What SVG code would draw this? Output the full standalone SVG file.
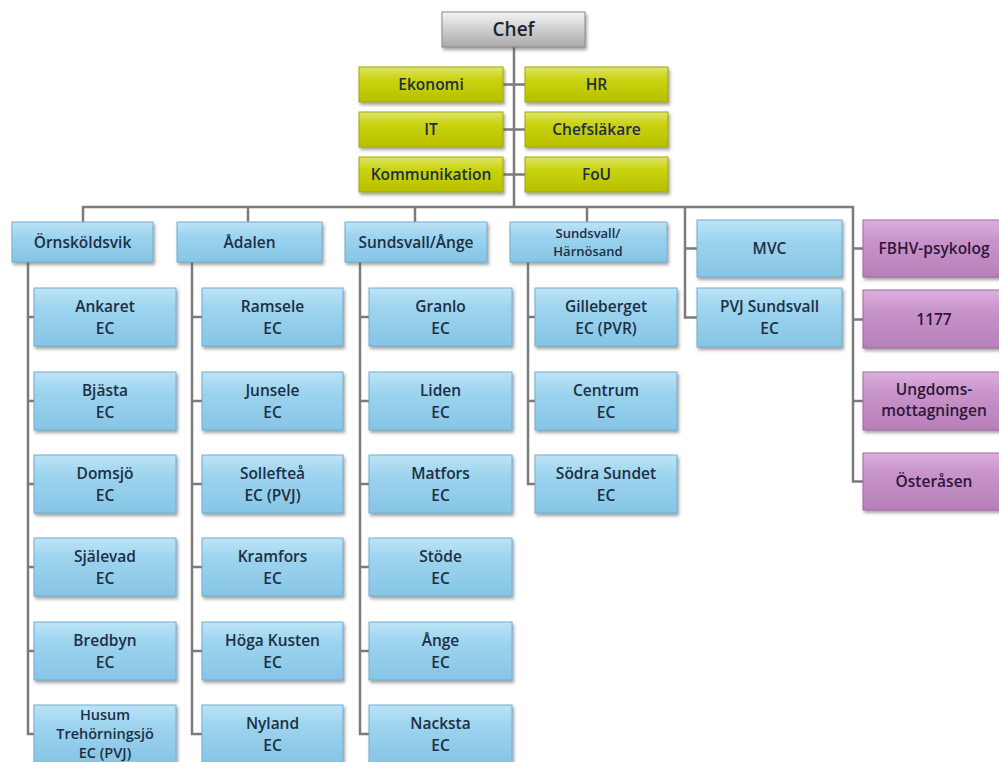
<svg xmlns="http://www.w3.org/2000/svg" width="999" height="762" viewBox="0 0 999 762">
<defs>
<linearGradient id="gBlue" x1="0" y1="0" x2="0" y2="1"><stop offset="0" stop-color="#bde4f7"/><stop offset="0.35" stop-color="#9dd4ef"/><stop offset="1" stop-color="#86c5e5"/></linearGradient>
<linearGradient id="gYel" x1="0" y1="0" x2="0" y2="1"><stop offset="0" stop-color="#dde56b"/><stop offset="0.35" stop-color="#cad30f"/><stop offset="1" stop-color="#b8c000"/></linearGradient>
<linearGradient id="gPur" x1="0" y1="0" x2="0" y2="1"><stop offset="0" stop-color="#dbb0dd"/><stop offset="0.35" stop-color="#c894cb"/><stop offset="1" stop-color="#b77fba"/></linearGradient>
<linearGradient id="gGray" x1="0" y1="0" x2="0" y2="1"><stop offset="0" stop-color="#f5f5f5"/><stop offset="0.45" stop-color="#d2d2d2"/><stop offset="1" stop-color="#a9a9a9"/></linearGradient>
<filter id="sh" x="-10%" y="-20%" width="130%" height="150%"><feDropShadow dx="1.5" dy="2.5" stdDeviation="1.5" flood-color="#555" flood-opacity="0.55"/></filter>
</defs>
<style>
.b{fill:url(#gBlue);stroke:#72aed0;stroke-width:1;filter:url(#sh)}
.y{fill:url(#gYel);stroke:#a3aa00;stroke-width:1;filter:url(#sh)}
.p{fill:url(#gPur);stroke:#a06aa3;stroke-width:1;filter:url(#sh)}
.g{fill:url(#gGray);stroke:#8a8a8a;stroke-width:1;filter:url(#sh)}
text{font-family:"Open Sans","Liberation Sans",sans-serif;font-weight:600;font-size:15.5px;fill:#1d2f44;text-anchor:middle}
.tp{fill:#2e1638}
.tc{font-size:19px;fill:#1a2530}
.sm{font-size:13px}
.md{font-size:14.5px}
.con{fill:none;stroke:#7b7b7b;stroke-width:2.5}
</style>
<rect width="999" height="762" fill="#ffffff"/>
<g id="connectors" class="con">
<path d="M514 47V207M503 84.5H525M503 129.5H525M503 174.5H525"/>
<path d="M83 222V207H853V481.5H863M248 207V222M415 207V222M587 207V222M685 207V317.5H697M685 248.5H697M853 248.5H863M853 319.5H863M853 401H863"/>
<path d="M28 262V734H34M28 317H34M28 401H34M28 484H34M28 567H34M28 651H34"/>
<path d="M192 262V734H202M192 317H202M192 401H202M192 484H202M192 567H202M192 651H202"/>
<path d="M360 262V734H369M360 317H369M360 401H369M360 484H369M360 567H369M360 651H369"/>
<path d="M528 262V484H535M528 317H535M528 401H535"/>
</g>
<g id="chef"><rect class="g" x="442" y="12" width="143" height="35"/><text class="tc" x="513.5" y="36">Chef</text></g>
<g id="ekonomi"><rect class="y" x="359" y="67" width="144" height="35"/><text x="431" y="90">Ekonomi</text></g>
<g id="hr"><rect class="y" x="525" y="67" width="143" height="35"/><text x="596.5" y="90">HR</text></g>
<g id="it"><rect class="y" x="359" y="112" width="144" height="35"/><text x="431" y="135">IT</text></g>
<g id="chefslakare"><rect class="y" x="525" y="112" width="143" height="35"/><text x="596.5" y="135">Chefsläkare</text></g>
<g id="kommunikation"><rect class="y" x="359" y="157" width="144" height="35"/><text x="431" y="180">Kommunikation</text></g>
<g id="fou"><rect class="y" x="525" y="157" width="143" height="35"/><text x="596.5" y="180">FoU</text></g>

<g id="ornskoldsvik"><rect class="b" x="12" y="222" width="141" height="40"/><text x="82.5" y="247.5">Örnsköldsvik</text></g>
<g id="adalen"><rect class="b" x="177" y="222" width="145" height="40"/><text x="249.5" y="247.5">Ådalen</text></g>
<g id="sundsvall-ange"><rect class="b" x="345" y="222" width="142" height="40"/><text x="416" y="247.5">Sundsvall/Ånge</text></g>
<g id="sundsvall-harnosand"><rect class="b" x="510" y="222" width="157" height="40"/><text class="sm" x="588" y="237.5">Sundsvall/</text><text class="sm" x="588" y="255.5">Härnösand</text></g>
<g id="mvc"><rect class="b" x="697" y="220" width="145" height="57"/><text x="769.5" y="253.5">MVC</text></g>
<g id="pvj-sundsvall"><rect class="b" x="697" y="288" width="145" height="59"/><text x="769.5" y="312">PVJ Sundsvall</text><text x="769.5" y="334">EC</text></g>
<g id="fbhv"><rect class="p" x="863" y="220" width="144" height="57"/><text class="tp" x="934" y="253.5">FBHV-psykolog</text></g>
<g id="n1177"><rect class="p" x="863" y="290" width="144" height="58"/><text class="tp" x="934" y="324.5">1177</text></g>
<g id="ungdoms"><rect class="p" x="863" y="372" width="144" height="58"/><text class="tp" x="934" y="395">Ungdoms-</text><text class="tp" x="934" y="416">mottagningen</text></g>
<g id="osterasen"><rect class="p" x="863" y="453" width="144" height="57"/><text class="tp" x="934" y="486.5">Österåsen</text></g>

<g id="ankaret"><rect class="b" x="34" y="288" width="142" height="58"/><text x="105" y="312">Ankaret</text><text x="105" y="334">EC</text></g>
<g id="bjasta"><rect class="b" x="34" y="372" width="142" height="58"/><text x="105" y="396">Bjästa</text><text x="105" y="418">EC</text></g>
<g id="domsjo"><rect class="b" x="34" y="455" width="142" height="58"/><text x="105" y="479">Domsjö</text><text x="105" y="501">EC</text></g>
<g id="sjalevad"><rect class="b" x="34" y="538" width="142" height="58"/><text x="105" y="562">Själevad</text><text x="105" y="584">EC</text></g>
<g id="bredbyn"><rect class="b" x="34" y="622" width="142" height="58"/><text x="105" y="646">Bredbyn</text><text x="105" y="668">EC</text></g>
<g id="husum"><rect class="b" x="34" y="705" width="142" height="58"/><text class="md" x="105" y="719.5">Husum</text><text class="md" x="105" y="738.5">Trehörningsjö</text><text class="md" x="105" y="757.5">EC (PVJ)</text></g>

<g id="ramsele"><rect class="b" x="202" y="288" width="141" height="58"/><text x="272.5" y="312">Ramsele</text><text x="272.5" y="334">EC</text></g>
<g id="junsele"><rect class="b" x="202" y="372" width="141" height="58"/><text x="272.5" y="396">Junsele</text><text x="272.5" y="418">EC</text></g>
<g id="solleftea"><rect class="b" x="202" y="455" width="141" height="58"/><text x="272.5" y="479">Sollefteå</text><text x="272.5" y="501">EC (PVJ)</text></g>
<g id="kramfors"><rect class="b" x="202" y="538" width="141" height="58"/><text x="272.5" y="562">Kramfors</text><text x="272.5" y="584">EC</text></g>
<g id="hoga-kusten"><rect class="b" x="202" y="622" width="141" height="58"/><text x="272.5" y="646">Höga Kusten</text><text x="272.5" y="668">EC</text></g>
<g id="nyland"><rect class="b" x="202" y="705" width="141" height="58"/><text x="272.5" y="729">Nyland</text><text x="272.5" y="751">EC</text></g>

<g id="granlo"><rect class="b" x="369" y="288" width="143" height="58"/><text x="440.5" y="312">Granlo</text><text x="440.5" y="334">EC</text></g>
<g id="liden"><rect class="b" x="369" y="372" width="143" height="58"/><text x="440.5" y="396">Liden</text><text x="440.5" y="418">EC</text></g>
<g id="matfors"><rect class="b" x="369" y="455" width="143" height="58"/><text x="440.5" y="479">Matfors</text><text x="440.5" y="501">EC</text></g>
<g id="stode"><rect class="b" x="369" y="538" width="143" height="58"/><text x="440.5" y="562">Stöde</text><text x="440.5" y="584">EC</text></g>
<g id="ange"><rect class="b" x="369" y="622" width="143" height="58"/><text x="440.5" y="646">Ånge</text><text x="440.5" y="668">EC</text></g>
<g id="nacksta"><rect class="b" x="369" y="705" width="143" height="58"/><text x="440.5" y="729">Nacksta</text><text x="440.5" y="751">EC</text></g>

<g id="gilleberget"><rect class="b" x="535" y="288" width="142" height="58"/><text x="606" y="312">Gilleberget</text><text x="606" y="334">EC (PVR)</text></g>
<g id="centrum"><rect class="b" x="535" y="372" width="142" height="58"/><text x="606" y="396">Centrum</text><text x="606" y="418">EC</text></g>
<g id="sodra-sundet"><rect class="b" x="535" y="455" width="142" height="58"/><text x="606" y="479">Södra Sundet</text><text x="606" y="501">EC</text></g>
</svg>
